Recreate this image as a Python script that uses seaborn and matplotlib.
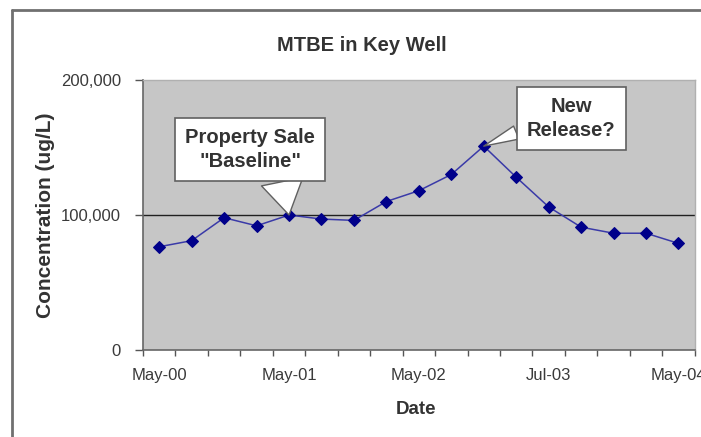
import matplotlib
matplotlib.use("Agg")
import matplotlib.pyplot as plt
from matplotlib.lines import Line2D
from matplotlib.ticker import FuncFormatter, FixedLocator
import seaborn as sns
import pandas as pd

# sample dates (category axis, only every 4th one is labelled)
dates = ["May-00", "Aug-00", "Nov-00", "Feb-01", "May-01", "Aug-01", "Nov-01", "Feb-02",
         "May-02", "Aug-02", "Nov-02", "Mar-03", "Jul-03", "Oct-03", "Jan-04", "Mar-04", "May-04"]
# MTBE concentration in ug/L
conc = [76500, 81000, 98000, 92000, 100000, 97000, 96000, 110000,
        118000, 130000, 151000, 128000, 106000, 91000, 86500, 86500, 79000]
baseline = 100000
yticks = [0, 100000, 200000]
label_every = 4

df = pd.DataFrame({"Date": dates, "Concentration": conc})

sns.set_theme(style="white")
plt.rcParams["font.family"] = ["Liberation Sans", "DejaVu Sans"]

fig = plt.figure(figsize=(7.01, 4.37), dpi=100)
ax = fig.add_axes([0.204, 0.199, 0.787, 0.618])
ax.set_facecolor("#c6c6c6")

sns.lineplot(data=df, x="Date", y="Concentration", sort=False, ax=ax,
             color="#3a3aa8", linewidth=1.1, marker="D", markersize=6,
             markerfacecolor="#00008a", markeredgecolor="#00008a", zorder=3)

ax.axhline(baseline, color="#202020", linewidth=1.0, zorder=2)

n = len(dates)
ax.set_xlim(-0.5, n - 0.5)
ax.set_ylim(yticks[0], yticks[-1])

# category ticks: marks between categories, labels on every 4th point
ax.xaxis.set_major_locator(FixedLocator(list(range(0, n, label_every))))
ax.set_xticklabels(dates[::label_every])
ax.xaxis.set_minor_locator(FixedLocator([i - 0.5 for i in range(n + 1)]))
ax.tick_params(axis="x", which="major", length=0, pad=13, labelsize=12, labelcolor="#3a3a3a")
ax.tick_params(axis="x", which="minor", bottom=True, length=4, width=1, color="#555555", direction="out")

ax.set_yticks(yticks)
ax.yaxis.set_major_formatter(FuncFormatter(lambda v, p: f"{int(v):,}"))
ax.tick_params(axis="y", left=True, length=6, width=1, color="#555555", pad=10,
               labelsize=12, labelcolor="#3a3a3a")

for side in ["left", "bottom"]:
    ax.spines[side].set_color("#666666")
    ax.spines[side].set_linewidth(1.2)
for side in ["top", "right"]:
    ax.spines[side].set_color("#b0b0b0")
    ax.spines[side].set_linewidth(1.0)

ax.set_xlabel("Date", fontsize=13.5, fontweight="bold", color="#333333")
ax.xaxis.set_label_coords(0.495, -0.19)
ax.set_ylabel("Concentration (ug/L)", fontsize=15, fontweight="bold", color="#333333")
ax.yaxis.set_label_coords(-0.16, 0.5)
fig.text(0.516, 0.897, "MTBE in Key Well", ha="center", va="center",
         fontsize=14.5, fontweight="bold", color="#333333")

# callouts
box = dict(boxstyle="square,pad=0.5", fc="white", ec="#606060", lw=1.2)
ax.annotate("Property Sale\n\"Baseline\"", xy=(4, conc[4]), xytext=(-28, 47),
            textcoords="offset points", ha="center", va="center",
            fontsize=14.5, fontweight="bold", color="#333333", linespacing=1.3,
            bbox=box,
            arrowprops=dict(arrowstyle="wedge,tail_width=2.1,shrink_factor=0.5",
                            fc="white", ec="#606060", lw=1.0, shrinkA=0, shrinkB=0,
                            relpos=(0.73, 0.0)),
            zorder=5)

ax.annotate("New\nRelease?", xy=(10, conc[10]), xytext=(63, 20),
            textcoords="offset points", ha="center", va="center",
            fontsize=14.5, fontweight="bold", color="#333333", linespacing=1.3,
            bbox=box,
            arrowprops=dict(arrowstyle="wedge,tail_width=0.7,shrink_factor=0.5",
                            fc="white", ec="#606060", lw=1.0, shrinkA=0, shrinkB=0,
                            relpos=(0.0, 0.27)),
            zorder=5)

# outer frame of the pasted chart
top = 1 - 10 / 437
left = 12 / 701
fig.add_artist(Line2D([left, 1], [top, top], transform=fig.transFigure, color="#707070", lw=2))
fig.add_artist(Line2D([left, left], [0, top], transform=fig.transFigure, color="#707070", lw=2))

fig.savefig("out.png", dpi=100)
